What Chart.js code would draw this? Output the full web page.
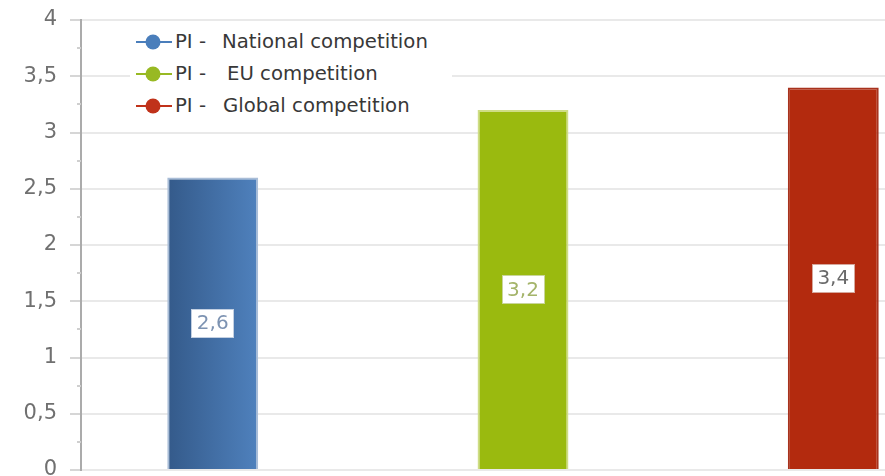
<!DOCTYPE html>
<html>
<head>
<meta charset="utf-8">
<script src="https://cdn.jsdelivr.net/npm/chart.js@4.4.1/dist/chart.umd.min.js"></script>
<style>
  html, body { margin: 0; padding: 0; background: #fff; overflow: hidden; }
  #wrap { position: relative; width: 965px; height: 476px; }
  #legend {
    position: absolute; left: 130px; top: 22px; width: 322px; height: 106px;
    background: #fff; font-family: "DejaVu Sans", sans-serif; font-size: 19.7px; color: #383838;
  }
  .item { position: absolute; left: 0; width: 322px; height: 32px; }
  .item svg { position: absolute; left: 5px; top: 6px; }
  .item .pre, .item .name { position: absolute; top: 4px; white-space: pre; line-height: 24px; }
</style>
</head>
<body>
<div id="wrap">
  <canvas id="chart"></canvas>
  <div id="legend"></div>
</div>
<script>
/* ===== Data ===== */
const categories   = [''];
const seriesPrefix = 'PI - ';
const seriesNames  = ['National competition', 'EU competition', 'Global competition'];
const seriesValues = [2.6, 3.2, 3.4];
const yTicks       = [0, 0.5, 1, 1.5, 2, 2.5, 3, 3.5, 4];

/* ===== Styles ===== */
const FILLS   = [['#345a8a', '#4f81bd'], ['#9aba0f', '#9aba0f'], ['#b32a0e', '#b32a0e']];
const BORDERS = ['#a9bdd7', '#cfdd86', '#a8321d'];
const MARKERS = ['#4a7ebb', '#98b923', '#c0321a'];
const LABEL_TEXT = ['#7d93b2', '#a4b46a', '#6a6a6a'];
const LABEL_EDGE = ['#c3d0e2', '#c9d59a', '#d6a79c'];
const CAT_PCT = 1.053;
const BAR_PCT = 0.293;
const NAME_LEFT = [92, 97, 93];

const fmt = v => String(v).replace('.', ',');

function barFill(c) {
  const k = c.datasetIndex;
  const chart = c.chart;
  const xs = chart.scales.x;
  if (!chart.chartArea || !xs || !xs.width) return FILLS[k][1];
  const size = xs.width * CAT_PCT;
  const chunk = size / seriesValues.length;
  const start = xs.getPixelForValue(0) - size / 2;
  const left = start + chunk * k + chunk * (1 - BAR_PCT) / 2;
  const g = chart.ctx.createLinearGradient(left, 0, left + chunk * BAR_PCT, 0);
  g.addColorStop(0, FILLS[k][0]);
  g.addColorStop(1, FILLS[k][1]);
  return g;
}

/* ===== Plugins ===== */
const minorTicks = {
  id: 'minorTicks',
  afterDraw(chart) {
    const ys = chart.scales.y;
    const ctx = chart.ctx;
    ctx.save();
    ctx.fillStyle = '#cfcfcf';
    for (let i = 0; i < yTicks.length - 1; i++) {
      const y = ys.getPixelForValue((yTicks[i] + yTicks[i + 1]) / 2);
      ctx.fillRect(ys.right - 4, Math.round(y) - 1, 4, 2);
    }
    ctx.restore();
  }
};

const valueLabels = {
  id: 'valueLabels',
  afterDatasetsDraw(chart) {
    const ctx = chart.ctx;
    ctx.save();
    ctx.font = '20px "DejaVu Sans"';
    ctx.textAlign = 'center';
    ctx.textBaseline = 'middle';
    chart.data.datasets.forEach((ds, k) => {
      chart.getDatasetMeta(k).data.forEach((el, i) => {
        const text = fmt(ds.data[i]);
        const w = ctx.measureText(text).width + 9;
        const h = 27;
        const x = el.x, y = (el.y + el.base) / 2;
        ctx.fillStyle = LABEL_EDGE[k];
        ctx.fillRect(Math.round(x - w / 2) - 1, Math.round(y - h / 2) - 1, Math.round(w) + 2, h + 2);
        ctx.fillStyle = '#fff';
        ctx.fillRect(Math.round(x - w / 2), Math.round(y - h / 2), Math.round(w), h);
        ctx.fillStyle = LABEL_TEXT[k];
        ctx.fillText(text, x, y + 1);
      });
    });
    ctx.restore();
  }
};

/* ===== Chart ===== */
new Chart(document.getElementById('chart'), {
  type: 'bar',
  data: {
    labels: categories,
    datasets: seriesNames.map((name, k) => ({
      label: seriesPrefix + name,
      data: [seriesValues[k]],
      backgroundColor: barFill,
      borderColor: BORDERS[k],
      borderWidth: 2,
      borderSkipped: 'start',
      categoryPercentage: CAT_PCT,
      barPercentage: BAR_PCT,
    })),
  },
  options: {
    responsive: true,
    maintainAspectRatio: false,
    animation: false,
    layout: { padding: { left: 0, right: 0, top: 20, bottom: 6 } },
    plugins: { legend: { display: false }, tooltip: { enabled: false } },
    scales: {
      x: { display: false },
      y: {
        min: 0, max: 4,
        afterBuildTicks: s => { s.ticks = yTicks.map(v => ({ value: v })); },
        afterFit: s => { s.width = 81; s.paddingTop = 0; s.paddingBottom = 0; },
        ticks: {
          padding: 13,
          color: '#707070',
          font: { family: 'DejaVu Sans', size: 21 },
          callback: v => fmt(v),
        },
        grid: { color: '#e9e9e9', lineWidth: 2, tickLength: 11, tickColor: '#d6d6d6', drawTicks: true },
        border: { color: '#ababab', width: 2 },
      },
    },
  },
  plugins: [minorTicks, valueLabels],
});

/* ===== Legend ===== */
const legend = document.getElementById('legend');
seriesNames.forEach((name, k) => {
  const item = document.createElement('div');
  item.className = 'item';
  item.style.top = (4 + k * 32) + 'px';
  item.innerHTML =
    `<svg width="40" height="20"><line x1="1" y1="10" x2="37" y2="10" stroke="${MARKERS[k]}" stroke-width="2"/>` +
    `<circle cx="18" cy="10" r="7.5" fill="${MARKERS[k]}"/></svg>` +
    `<span class="pre" style="left:45px">${seriesPrefix.trim()}</span>` +
    `<span class="name" style="left:${NAME_LEFT[k]}px">${name}</span>`;
  legend.appendChild(item);
});
</script>
</body>
</html>
